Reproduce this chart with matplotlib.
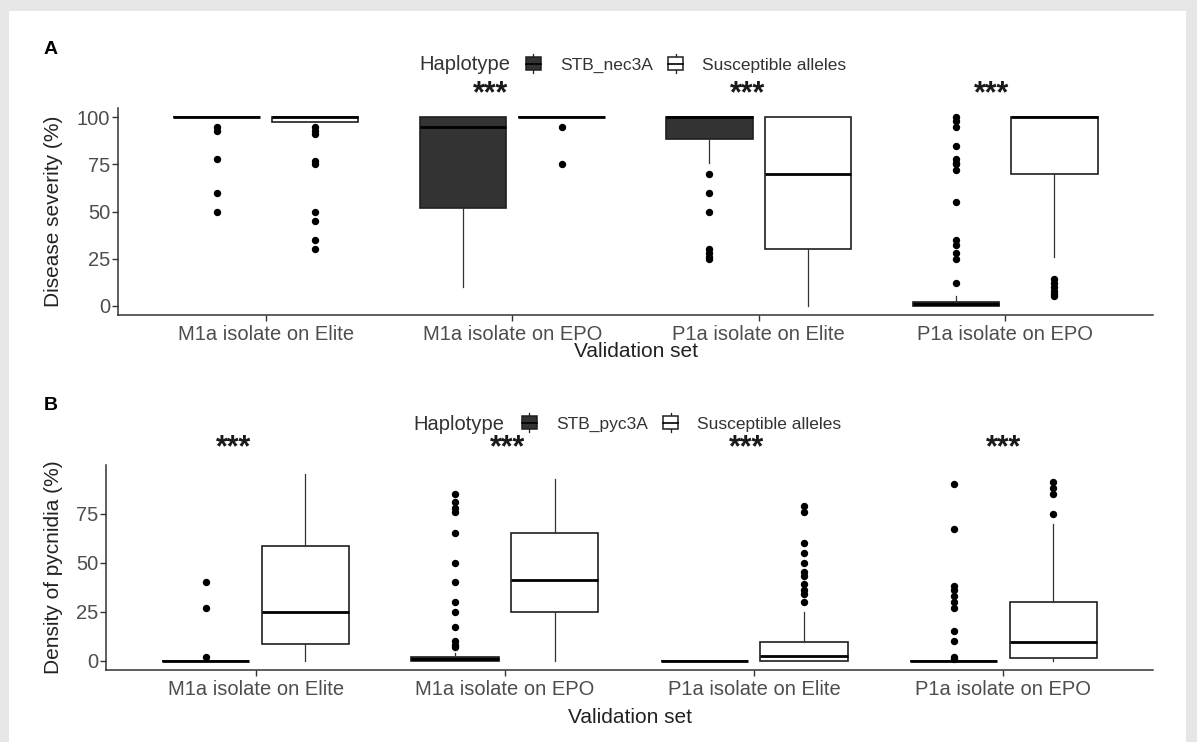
import numpy as np
import matplotlib
matplotlib.use("Agg")
import matplotlib.pyplot as plt
from matplotlib.patches import Rectangle, Patch
from matplotlib.lines import Line2D
from matplotlib.legend_handler import HandlerBase

plt.rcParams['font.family'] = ['Liberation Sans', 'DejaVu Sans']

# ---------------- data ----------------
categories = ["M1a isolate on Elite", "M1a isolate on EPO",
              "P1a isolate on Elite", "P1a isolate on EPO"]

# Panel A - Disease severity (%)
a_res_q1 = [100, 52, 88.5, 0]
a_res_med = [100, 95, 100, 1]
a_res_q3 = [100, 100, 100, 2]
a_res_lo = [100, 10, 76, 0]
a_res_hi = [100, 100, 100, 5]
a_res_fliers = [[95, 93, 78, 60, 50],
                [],
                [70, 60, 50, 30, 28, 26, 25],
                [100, 98, 95, 85, 78, 76, 75, 72, 55, 35, 32, 28, 25, 12]]

a_sus_q1 = [97.5, 100, 30, 70]
a_sus_med = [100, 100, 70, 100]
a_sus_q3 = [100, 100, 100, 100]
a_sus_lo = [97.5, 100, 0, 26]
a_sus_hi = [100, 100, 100, 100]
a_sus_fliers = [[95, 93, 91, 77, 75, 50, 45, 35, 30],
                [95, 75],
                [],
                [14, 12, 10, 8, 6, 5]]
a_sig = ["", "***", "***", "***"]

# Panel B - Density of pycnidia (%)
b_res_q1 = [0, 0, 0, 0]
b_res_med = [0, 1, 0, 0]
b_res_q3 = [0, 2, 0, 0]
b_res_lo = [0, 0, 0, 0]
b_res_hi = [0, 4, 0, 0]
b_res_fliers = [[40, 27, 2],
                [85, 81, 78, 76, 65, 50, 40, 30, 25, 17, 10, 8, 7],
                [],
                [90, 67, 38, 36, 33, 30, 27, 15, 10, 2, 1]]

b_sus_q1 = [8.5, 24.6, 0, 1.2]
b_sus_med = [25, 41, 2.5, 9.7]
b_sus_q3 = [58.4, 65.2, 9.7, 29.7]
b_sus_lo = [0, 0, 0, 0]
b_sus_hi = [95, 92.4, 25, 69.6]
b_sus_fliers = [[],
                [],
                [79, 76, 60, 55, 50, 45, 43, 39, 36, 34, 30],
                [91, 88, 85, 75]]
b_sig = ["***", "***", "***", "***"]

# ---------------- helpers ----------------
W, H = 1197, 742


def fx(px):
    return px / W


def fy(py):
    return 1 - py / H


def make_stats(q1, med, q3, lo, hi, fl):
    return [dict(q1=a, med=b, q3=c, whislo=d, whishi=e, fliers=f)
            for a, b, c, d, e, f in zip(q1, med, q3, lo, hi, fl)]


DARK = "#333333"
EDGE = "#1f1f1f"
TICKC = "#4d4d4d"


class BoxKeyHandler(HandlerBase):
    def create_artists(self, legend, orig_handle, xdescent, ydescent,
                       width, height, fontsize, trans):
        fc = orig_handle.get_facecolor()
        x0, y0 = -xdescent, -ydescent
        cx = x0 + width / 2
        v = Line2D([cx, cx], [y0 - height * 0.25, y0 + height * 1.25],
                   color=EDGE, lw=0.9, transform=trans)
        r = Rectangle((x0, y0), width, height, facecolor=fc,
                      edgecolor=EDGE, lw=1.1, transform=trans)
        m = Line2D([x0, x0 + width], [y0 + height / 2] * 2,
                   color="black", lw=1.2, transform=trans)
        return [v, r, m]


def draw_panel(ax, res, sus, sig, star_dx, star_y, ylim, yticks, ylabel,
               ylabel_x, xlabel_y):
    pos = np.arange(1, len(categories) + 1)
    common = dict(widths=0.35, patch_artist=True, showcaps=False,
                  manage_ticks=False,
                  medianprops=dict(color="black", lw=2.0),
                  whiskerprops=dict(color=DARK, lw=0.9),
                  flierprops=dict(marker="o", markerfacecolor="black",
                                  markeredgecolor="black", markersize=4.3))
    ax.bxp(res, positions=pos - 0.2,
           boxprops=dict(facecolor=DARK, edgecolor=EDGE, linewidth=1.2),
           **common)
    ax.bxp(sus, positions=pos + 0.2,
           boxprops=dict(facecolor="white", edgecolor=EDGE, linewidth=1.2),
           **common)
    ax.set_xlim(0.4, 4.6)
    ax.set_ylim(*ylim)
    ax.set_xticks(pos)
    ax.set_xticklabels(categories)
    ax.set_yticks(yticks)
    for s in ["top", "right"]:
        ax.spines[s].set_visible(False)
    for s in ["left", "bottom"]:
        ax.spines[s].set_color("#333333")
        ax.spines[s].set_linewidth(1.1)
    ax.tick_params(axis="both", length=4, width=1, color="#333333",
                   labelcolor=TICKC, labelsize=14.5)
    ax.tick_params(axis="x", pad=3)
    ax.tick_params(axis="y", pad=1.5)
    ax.set_ylabel(ylabel, fontsize=15, color="#222222")
    ax.yaxis.label.set_va("center")
    ax.yaxis.set_label_coords(ylabel_x, 0.5)
    ax.set_xlabel("Validation set", fontsize=15, color="#222222")
    ax.xaxis.set_label_coords(0.5, xlabel_y)
    ax.patch.set_alpha(0)
    for p, s, dx in zip(pos, sig, star_dx):
        if s:
            ax.text(p + dx, star_y, s, ha="center", va="baseline",
                    fontsize=22, fontweight="bold", color="#1a1a1a",
                    clip_on=False)


# ---------------- figure ----------------
fig = plt.figure(figsize=(W / 100, H / 100), dpi=100)
fig.patch.set_facecolor("#e6e6e6")
fig.add_artist(Rectangle((fx(9), 0), fx(1186) - fx(9), fy(11),
                         transform=fig.transFigure, facecolor="white",
                         edgecolor="none", zorder=-10))

axA = fig.add_axes([fx(118), fy(315), fx(1153) - fx(118), (315 - 108) / H])
axB = fig.add_axes([fx(106), fy(670), fx(1153) - fx(106), (670 - 465) / H])

draw_panel(axA,
           make_stats(a_res_q1, a_res_med, a_res_q3, a_res_lo, a_res_hi, a_res_fliers),
           make_stats(a_sus_q1, a_sus_med, a_sus_q3, a_sus_lo, a_sus_hi, a_sus_fliers),
           a_sig, [0, -0.09, -0.045, -0.055], 108.2, (-5, 105),
           [0, 25, 50, 75, 100], "Disease severity (%)", -0.062, -0.13)
draw_panel(axB,
           make_stats(b_res_q1, b_res_med, b_res_q3, b_res_lo, b_res_hi, b_res_fliers),
           make_stats(b_sus_q1, b_sus_med, b_sus_q3, b_sus_lo, b_sus_hi, b_sus_fliers),
           b_sig, [-0.088, 0.01, -0.03, 0.0], 104.3, (-4.75, 99.75),
           [0, 25, 50, 75], "Density of pycnidia (%)", -0.05, -0.185)

# panel letters
fig.text(fx(44), fy(50), "A", fontsize=14, fontweight="bold", va="center",
         ha="left", color="black")
fig.text(fx(44), fy(405), "B", fontsize=14, fontweight="bold", va="center",
         ha="left", color="black")

# legends
for title_x, y, key_x, label in [(419, 65, 526, "STB_nec3A"),
                                 (413, 424, 522, "STB_pyc3A")]:
    fig.text(fx(title_x), fy(y), "Haplotype", fontsize=14.5, color="#333333",
             ha="left", va="center")
    handles = [Patch(facecolor=DARK, label=label),
               Patch(facecolor="white", label="Susceptible alleles")]
    fig.legend(handles=handles, loc="center left",
               bbox_to_anchor=(fx(key_x), fy(y)), ncol=2, frameon=False,
               fontsize=12.5, handlelength=0.85, handleheight=0.75,
               handletextpad=1.1, columnspacing=0.9, borderpad=0,
               borderaxespad=0, labelcolor="#333333",
               handler_map={Patch: BoxKeyHandler()})

fig.savefig("out.png", dpi=100, facecolor=fig.get_facecolor())
